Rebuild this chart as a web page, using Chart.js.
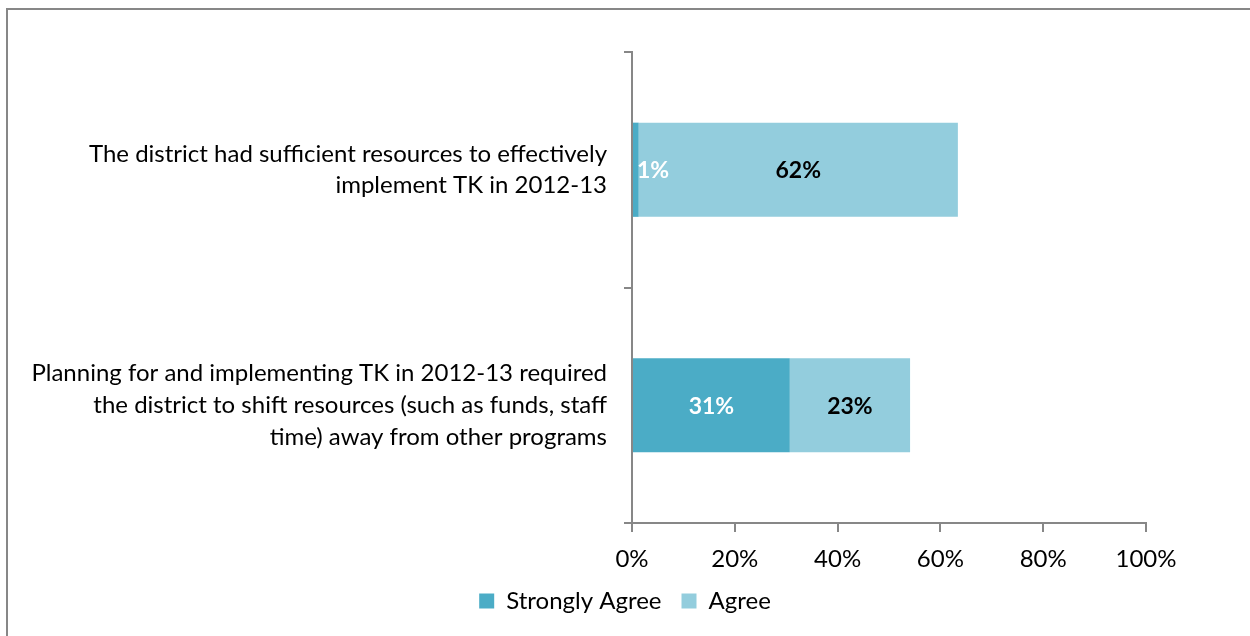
<!DOCTYPE html>
<html lang="en">
<head>
    <meta charset="UTF-8">
    <title>TK Resources</title>
    <script src="https://cdn.jsdelivr.net/npm/chart.js@4.4.1/dist/chart.umd.min.js"></script>
    <style>
        html, body { margin: 0; padding: 0; background: #fff; overflow: hidden; }
        .frame { position: absolute; left: 6px; top: 8px; width: 1260px; height: 640px; border: 2px solid #878787; box-sizing: border-box; }
        .wrap { position: absolute; left: 0; top: 0; width: 1250px; height: 636px; }
    </style>
</head>
<body>
    <div class="frame"></div>
    <div class="wrap"><canvas id="chart" width="1250" height="636"></canvas></div>

    <script>
        // data
        const categories = [
            ['The district had sufficient resources to effectively', 'implement TK in 2012-13'],
            ['Planning for and implementing TK in 2012-13 required', 'the district to shift resources (such as funds, staff', 'time) away from other programs']
        ];
        const stronglyAgree = [1.3, 30.7];
        const agree = [62.1, 23.4];
        const seriesNames = ['Strongly Agree', 'Agree'];
        const xTicks = [0, 20, 40, 60, 80, 100];

        const FONT = 'Lato';
        const axisColor = '#878787';

        // draws the % labels inside bars
        const barLabels = {
            id: 'barLabels',
            afterDatasetsDraw(chart) {
                const ctx = chart.ctx;
                ctx.save();
                ctx.font = 'bold 23px ' + FONT;
                ctx.textBaseline = 'middle';
                ctx.textAlign = 'center';
                chart.data.datasets.forEach((ds, i) => {
                    const meta = chart.getDatasetMeta(i);
                    meta.data.forEach((bar, j) => {
                        const txt = Math.round(ds.data[j]) + '%';
                        const w = ctx.measureText(txt).width;
                        let cx = (bar.x + bar.base) / 2;
                        const left = Math.min(bar.x, bar.base);
                        if (cx - w / 2 < left + 4) cx = left + 4 + w / 2;
                        ctx.fillStyle = i === 0 ? '#ffffff' : '#000000';
                        ctx.fillText(txt, cx, bar.y + 1);
                    });
                });
                ctx.restore();
            }
        };

        new Chart(document.getElementById('chart'), {
            type: 'bar',
            data: {
                labels: categories,
                datasets: [
                    { label: seriesNames[0], data: stronglyAgree, backgroundColor: '#4BACC6', borderWidth: 0 },
                    { label: seriesNames[1], data: agree, backgroundColor: '#93CDDD', borderWidth: 0 }
                ]
            },
            options: {
                indexAxis: 'y',
                responsive: false,
                animation: false,
                devicePixelRatio: 1,
                layout: { padding: { left: 0, right: 0, top: 52, bottom: 13 } },
                categoryPercentage: 1,
                barPercentage: 0.4,
                scales: {
                    x: {
                        stacked: true,
                        min: 0,
                        max: 100,
                        afterBuildTicks(scale) { scale.ticks = xTicks.map(v => ({ value: v })); },
                        afterFit(scale) { scale.height = 46; scale.paddingRight = 104; scale.paddingLeft = 0; },
                        ticks: {
                            padding: 13,
                            color: '#000',
                            font: { family: FONT, size: 24 },
                            callback: v => v + '%'
                        },
                        grid: { drawOnChartArea: false, drawTicks: true, tickLength: 9, color: axisColor, lineWidth: 2 },
                        border: { color: axisColor, width: 2 }
                    },
                    y: {
                        stacked: true,
                        afterFit(scale) { scale.width = 632; scale.paddingTop = 0; scale.paddingBottom = 0; },
                        ticks: {
                            padding: 17,
                            color: '#000',
                            font: { family: FONT, size: 24, lineHeight: 1.32 }
                        },
                        grid: { drawOnChartArea: false, drawTicks: true, tickLength: 8, color: axisColor, lineWidth: 2, offset: true },
                        border: { color: axisColor, width: 2 }
                    }
                },
                plugins: {
                    legend: {
                        position: 'bottom',
                        labels: {
                            boxWidth: 15,
                            boxHeight: 15,
                            padding: 20,
                            color: '#000',
                            font: { family: FONT, size: 24 }
                        }
                    },
                    tooltip: { enabled: false }
                }
            },
            plugins: [barLabels]
        });
    </script>
</body>
</html>
